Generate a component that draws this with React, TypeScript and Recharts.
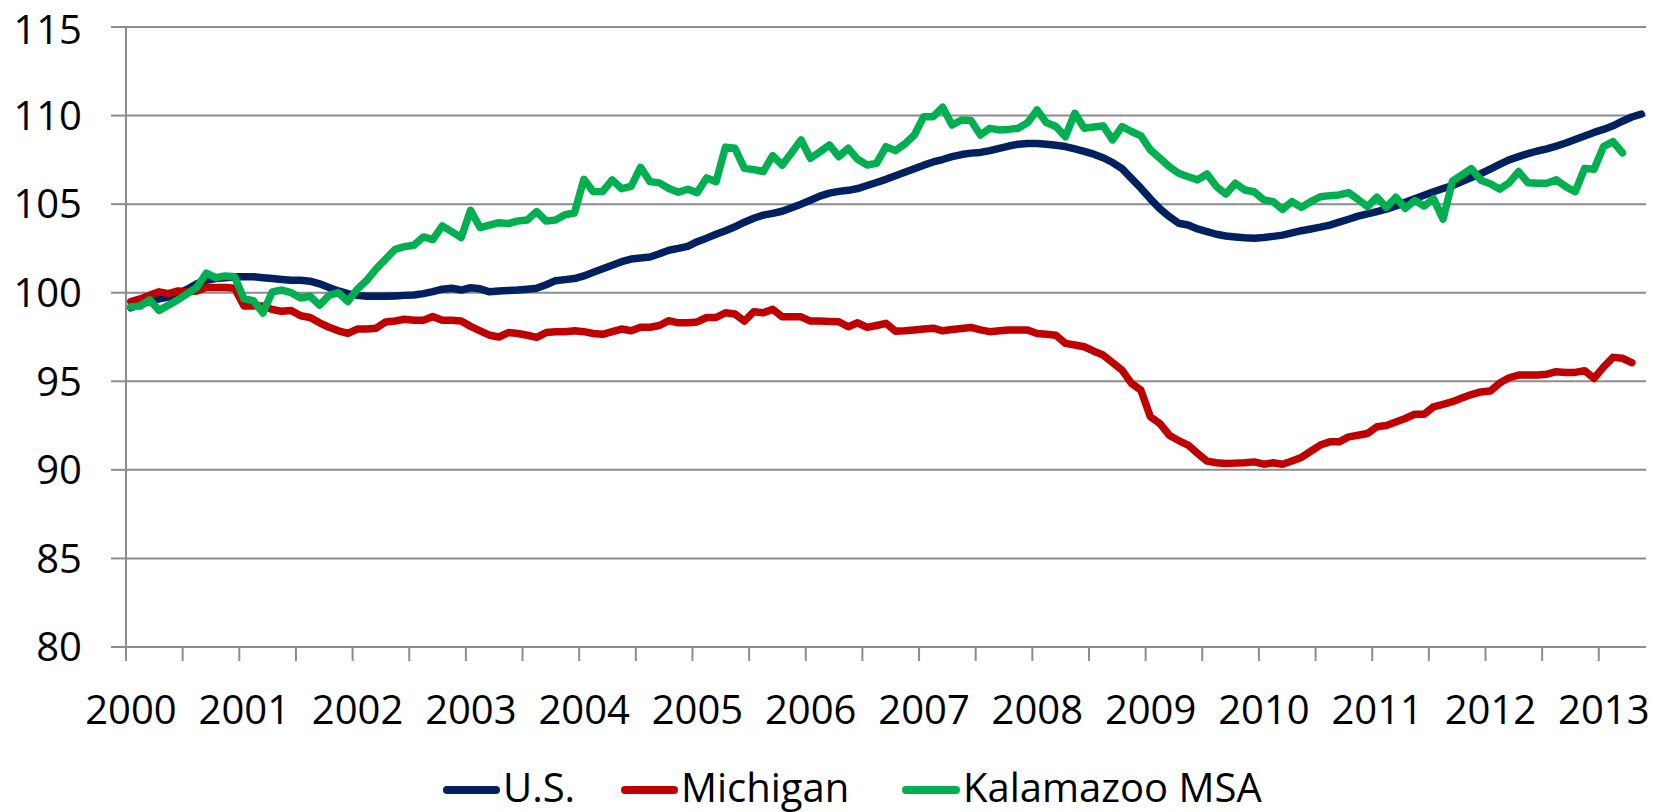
import React from 'react';
import { LineChart, Line, XAxis, YAxis, CartesianGrid, Legend } from 'recharts';

// ---------- DATA ----------
const startYear = 2000;
const seriesNames = ['U.S.', 'Michigan', 'Kalamazoo MSA'];
const seriesColors = ['#002060', '#C00000', '#00B050'];

// Monthly index values, Jan 2000 onward
const usValues = [
  99.15, 99.35, 99.5, 99.65, 99.75, 99.95, 100.2, 100.5, 100.7, 100.8,
  100.85, 100.9, 100.9, 100.9, 100.85, 100.8, 100.75, 100.7, 100.7, 100.65,
  100.5, 100.3, 100.1, 99.95, 99.85, 99.8, 99.8, 99.8, 99.82, 99.85,
  99.87, 99.95, 100.06, 100.2, 100.25, 100.15, 100.28, 100.22, 100.05, 100.1,
  100.12, 100.15, 100.2, 100.25, 100.45, 100.68, 100.74, 100.8, 100.95, 101.15,
  101.35, 101.55, 101.75, 101.9, 101.96, 102.02, 102.2, 102.4, 102.5, 102.62,
  102.88, 103.08, 103.3, 103.5, 103.72, 103.98, 104.2, 104.38, 104.48, 104.6,
  104.8, 105.0, 105.22, 105.45, 105.62, 105.72, 105.78, 105.88, 106.05, 106.22,
  106.4, 106.6, 106.8, 107.0, 107.2, 107.38, 107.52, 107.68, 107.8, 107.88,
  107.92, 108.02, 108.15, 108.28, 108.38, 108.42, 108.42, 108.38, 108.32, 108.25,
  108.12, 107.98, 107.82, 107.62, 107.35, 107.0, 106.45, 105.9, 105.3, 104.75,
  104.3, 103.92, 103.82, 103.6, 103.45, 103.3, 103.2, 103.15, 103.1, 103.08,
  103.12, 103.18, 103.25, 103.38, 103.5, 103.6, 103.7, 103.82, 103.98, 104.15,
  104.32, 104.45, 104.58, 104.72, 104.9, 105.1, 105.3, 105.5, 105.7, 105.88,
  106.05, 106.28, 106.5, 106.72, 106.98, 107.25, 107.5, 107.68, 107.85, 108.0,
  108.12, 108.28, 108.45, 108.65, 108.85, 109.05, 109.22, 109.42, 109.68, 109.92,
  110.08,
];

const michiganValues = [
  99.5, 99.65, 99.85, 100.05, 99.95, 100.1, 100.05, 100.1, 100.3, 100.3,
  100.3, 100.25, 99.25, 99.25, 99.25, 99.05, 98.95, 99.0, 98.7, 98.6,
  98.3, 98.05, 97.85, 97.7, 97.95, 97.95, 98.0, 98.35, 98.4, 98.5,
  98.45, 98.45, 98.65, 98.45, 98.45, 98.4, 98.1, 97.85, 97.6, 97.5,
  97.75, 97.7, 97.6, 97.48, 97.75, 97.8, 97.8, 97.85, 97.8, 97.7,
  97.65, 97.8, 97.95, 97.85, 98.05, 98.05, 98.15, 98.42, 98.3, 98.3,
  98.35, 98.6, 98.6, 98.87, 98.8, 98.4, 98.93, 98.87, 99.06, 98.64,
  98.64, 98.64, 98.4, 98.4, 98.38, 98.36, 98.08, 98.3, 98.04, 98.15,
  98.27, 97.83, 97.85, 97.9, 97.95, 98.0, 97.85, 97.92, 97.98, 98.04,
  97.9, 97.8, 97.85, 97.9, 97.9, 97.9, 97.7, 97.65, 97.6, 97.14,
  97.05, 96.95, 96.7, 96.48, 96.05, 95.63, 94.88, 94.5, 93.0, 92.62,
  91.96, 91.65, 91.4, 90.93, 90.49, 90.4, 90.36, 90.38, 90.4, 90.45,
  90.32, 90.4, 90.32, 90.5, 90.7, 91.05, 91.4, 91.58, 91.58, 91.86,
  91.95, 92.05, 92.43, 92.5, 92.7, 92.9, 93.14, 93.14, 93.56, 93.7,
  93.85, 94.05, 94.25, 94.4, 94.45, 94.9, 95.2, 95.35, 95.35, 95.35,
  95.4, 95.54, 95.5, 95.5, 95.6, 95.16, 95.8, 96.35, 96.3, 96.05,
];

const kalamazooValues = [
  99.2, 99.25, 99.6, 99.0, 99.3, 99.6, 99.95, 100.3, 101.1, 100.85,
  100.95, 100.9, 99.65, 99.55, 98.85, 100.05, 100.15, 100.0, 99.7, 99.8,
  99.3, 99.85, 100.0, 99.5, 100.2, 100.7, 101.35, 101.9, 102.45, 102.6,
  102.68, 103.15, 103.0, 103.77, 103.45, 103.12, 104.65, 103.68, 103.82, 103.95,
  103.9, 104.05, 104.1, 104.58, 104.05, 104.1, 104.4, 104.5, 106.4, 105.7,
  105.72, 106.37, 105.87, 106.0, 107.08, 106.27, 106.2, 105.88, 105.67, 105.84,
  105.65, 106.48, 106.27, 108.22, 108.15, 107.02, 106.95, 106.84, 107.74, 107.2,
  107.9, 108.63, 107.59, 107.95, 108.34, 107.68, 108.15, 107.53, 107.21, 107.3,
  108.25, 108.02, 108.4, 108.9, 109.94, 109.94, 110.47, 109.47, 109.75, 109.72,
  108.9, 109.28, 109.19, 109.22, 109.28, 109.6, 110.32, 109.6, 109.38, 108.81,
  110.13, 109.28, 109.35, 109.42, 108.63, 109.38, 109.1, 108.85, 108.06, 107.6,
  107.12, 106.74, 106.55, 106.37, 106.7, 105.99, 105.57, 106.18, 105.8, 105.7,
  105.24, 105.14, 104.7, 105.14, 104.82, 105.14, 105.42, 105.48, 105.52, 105.65,
  105.27, 104.86, 105.39, 104.82, 105.39, 104.76, 105.2, 104.9, 105.3, 104.15,
  106.3, 106.65, 107.0, 106.35, 106.15, 105.85, 106.2, 106.84, 106.21, 106.18,
  106.18, 106.37, 105.99, 105.7, 107.02, 106.97, 108.25, 108.53, 107.9,
];

const yTicks = [80, 85, 90, 95, 100, 105, 110, 115];
// half-year tick marks (slot boundaries), month offsets from Jan 2000
const halfYearMonths = [0, 6, 12, 18, 24, 30, 36, 42, 48, 54, 60, 66, 72, 78, 84, 90, 96, 102, 108, 114, 120, 126, 132, 138, 144, 150, 156];
const yearLabels = ['2000', '2001', '2002', '2003', '2004', '2005', '2006', '2007', '2008', '2009', '2010', '2011', '2012', '2013'];

const data = usValues.map((v, i) => ({
  month: i,
  us: v,
  michigan: i < michiganValues.length ? michiganValues[i] : null,
  kalamazoo: i < kalamazooValues.length ? kalamazooValues[i] : null,
}));
const seriesKeys = ['us', 'michigan', 'kalamazoo'];

// ---------- STYLE ----------
const FONT = "'Open Sans', 'Liberation Sans', sans-serif";
const GRID = '#8c8c8c';
const W = 1667;
const H = 812;

const xTicks = halfYearMonths.map((m) => m - 0.5);
const fmtX = (t: number) => {
  const m = Math.round(t + 0.5);
  return m % 12 === 0 ? yearLabels[m / 12] ?? String(startYear + m / 12) : '';
};

const XTick = (props: any) => {
  const { x, y, payload } = props;
  const label = fmtX(payload.value);
  if (!label) return null;
  return (
    <text x={x + 5} y={y + 62.5} textAnchor="middle" fontFamily={FONT} fontSize={40} fill="#000">
      {label}
    </text>
  );
};

const YTick = (props: any) => {
  const { x, y, payload } = props;
  // keep the top label's text box inside the page
  const baseline = Math.max(y + 14.3, 43.5);
  return (
    <text x={x} y={baseline} textAnchor="end" fontFamily={FONT} fontSize={40} fill="#000">
      {payload.value}
    </text>
  );
};

const legendLayout = [
  { iconX1: 447, iconX2: 496, textX: 503 },
  { iconX1: 625, iconX2: 674, textX: 681 },
  { iconX1: 906, iconX2: 956, textX: 963 },
];

const renderLegend = () => (
  <svg width={W} height={85} style={{ display: 'block', overflow: 'visible' }}>
    {seriesNames.map((name, k) => (
      <g key={name}>
        <line
          x1={legendLayout[k].iconX1}
          x2={legendLayout[k].iconX2}
          y1={63}
          y2={63}
          stroke={seriesColors[k]}
          strokeWidth={8}
          strokeLinecap="round"
        />
        <text x={legendLayout[k].textX} y={74.5} fontFamily={FONT} fontSize={40} fill="#000">
          {name}
        </text>
      </g>
    ))}
  </svg>
);

export default function App() {
  return (
    <div style={{ width: W, height: H, background: '#fff' }}>
      <style>{`html,body{margin:0;padding:0;background:#fff;}`}</style>
      <LineChart width={W} height={H} data={data} margin={{ top: 27, right: 21, bottom: 0, left: 0 }}>
        <CartesianGrid vertical={false} stroke={GRID} strokeWidth={2} />
        <XAxis
          dataKey="month"
          type="number"
          domain={[-0.5, 160.5]}
          ticks={xTicks}
          interval={0}
          height={80}
          tickSize={14}
          tickMargin={0}
          axisLine={{ stroke: GRID, strokeWidth: 2 }}
          tickLine={{ stroke: GRID, strokeWidth: 2 }}
          tick={<XTick />}
        />
        <YAxis
          type="number"
          domain={[80, 115]}
          ticks={yTicks}
          interval={0}
          width={126}
          tickSize={15}
          tickMargin={29}
          axisLine={{ stroke: GRID, strokeWidth: 2 }}
          tickLine={{ stroke: GRID, strokeWidth: 2 }}
          tick={<YTick />}
        />
        <Legend verticalAlign="bottom" content={renderLegend} />
        {seriesKeys.map((key, k) => (
          <Line
            key={key}
            type="linear"
            dataKey={key}
            name={seriesNames[k]}
            stroke={seriesColors[k]}
            strokeWidth={7.5}
            strokeLinecap="round"
            strokeLinejoin="round"
            dot={false}
            activeDot={false}
            isAnimationActive={false}
            connectNulls={false}
          />
        ))}
      </LineChart>
    </div>
  );
}
